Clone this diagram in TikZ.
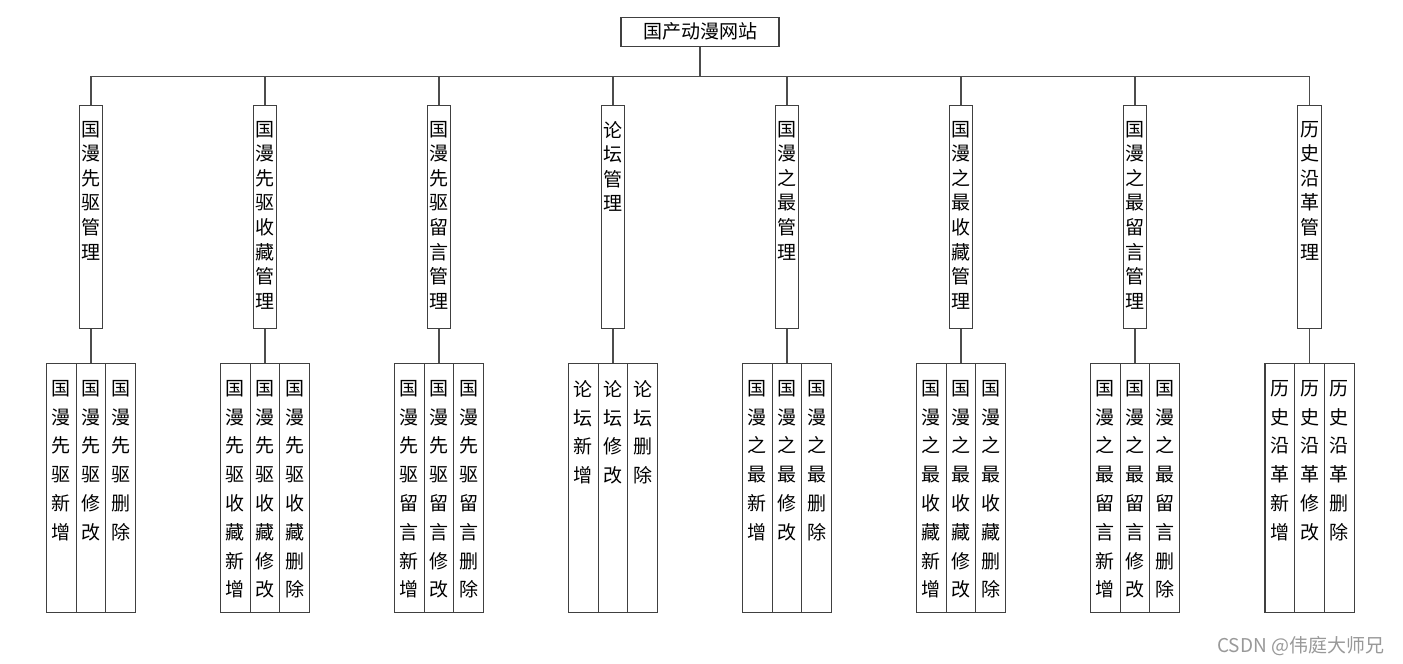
\documentclass[tikz,border=0pt]{standalone}
\usepackage{fontspec}
\setmainfont{Noto Sans CJK SC}
\def\vchars#1{\expandafter\vcharsA#1\relax}
\def\vcharsA#1{\ifx#1\relax\else#1\par\expandafter\vcharsA\fi}
\newcommand\colbox[5]{\parbox[t][#1][t]{#2}{\centering\fontsize{19pt}{#3}\selectfont\vspace*{#4}\vchars{#5}}}
\begin{document}
\begin{tikzpicture}[x=1pt,y=-1pt,
  box/.style={draw=black!75, line width=1.1pt, inner sep=0pt, anchor=north},
  conn/.style={draw=black!70, line width=1.1pt}]
\useasboundingbox[fill=white] (0,0) rectangle (1403,664);
\node[box, anchor=center, minimum width=158pt, minimum height=29pt,
  font=\fontsize{19pt}{20pt}\selectfont] (root) at (700,31.7) {国产动漫网站};
\coordinate (bus) at (700,76.7);
\draw[conn] (root.south) -- (bus);
\foreach \i/\c/\p/\n in {1/91/国漫先驱/国漫先驱管理, 2/265/国漫先驱收藏/国漫先驱收藏管理,
  3/439/国漫先驱留言/国漫先驱留言管理, 4/613/论坛/论坛管理, 5/787/国漫之最/国漫之最管理,
  6/961/国漫之最收藏/国漫之最收藏管理, 7/1135/国漫之最留言/国漫之最留言管理,
  8/1309.5/历史沿革/历史沿革管理}{
  \node[box] (g\i) at (\c,104.5) {\colbox{223.5pt}{23.5pt}{24.6pt}{16pt}{\n}};
  \draw[conn] (g\i.north) |- (bus);
  \node[box] (l\i-b) at (\c,362.7) {\colbox{249pt}{29.7pt}{28.8pt}{17pt}{\p 修改}};
  \node[box] (l\i-a) at ([xshift=-29.7pt]\c,362.7) {\colbox{249pt}{29.7pt}{28.8pt}{17pt}{\p 新增}};
  \node[box] (l\i-c) at ([xshift=29.7pt]\c,362.7) {\colbox{249pt}{29.7pt}{28.8pt}{17pt}{\p 删除}};
  \draw[conn] (g\i.south) -- (l\i-b.north);
}
\node[anchor=base west, text=black!40, inner sep=0pt, font=\fontsize{19pt}{19pt}\selectfont] (wm) at (1217,652) {CSDN @伟庭大师兄};
\end{tikzpicture}
\end{document}
